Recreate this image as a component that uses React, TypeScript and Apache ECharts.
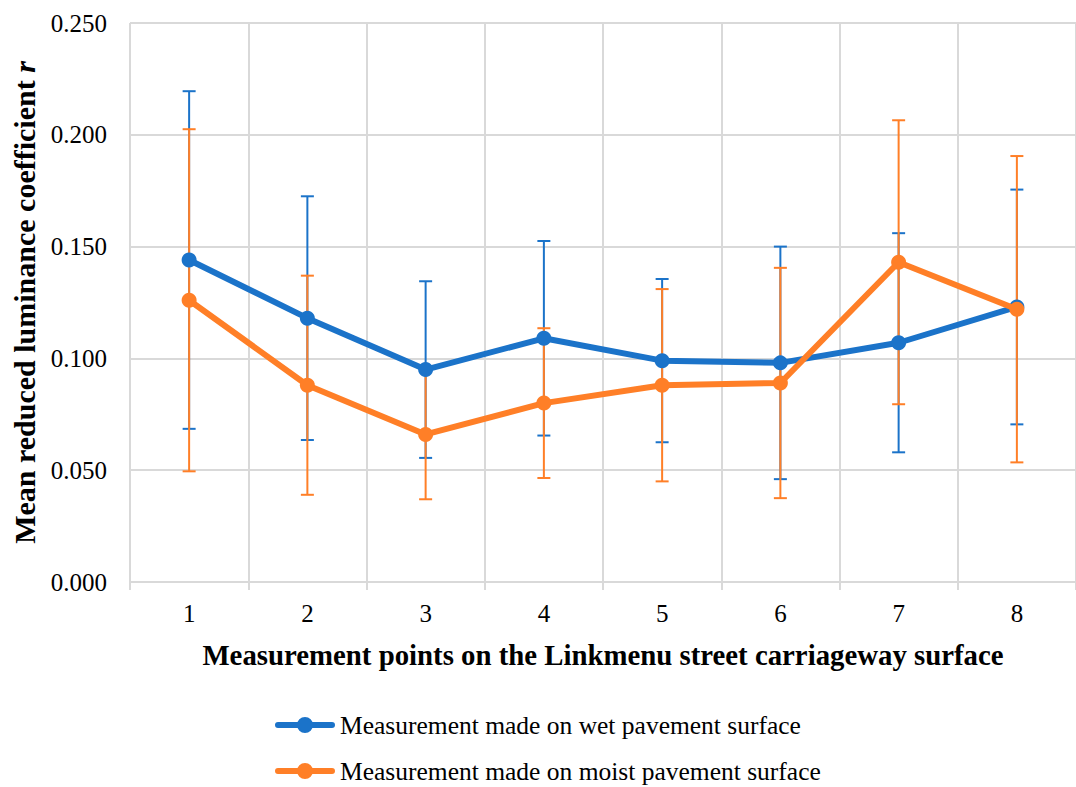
import React, { useEffect, useRef } from "react";
import * as echarts from "echarts";

const categories = ["1", "2", "3", "4", "5", "6", "7", "8"];
const wetMeans = [0.144, 0.118, 0.095, 0.109, 0.099, 0.098, 0.107, 0.123];
const wetErrors = [0.0755, 0.0545, 0.0395, 0.0435, 0.0365, 0.052, 0.049, 0.0525];
const moistMeans = [0.126, 0.088, 0.066, 0.08, 0.088, 0.089, 0.143, 0.122];
const moistErrors = [0.0765, 0.049, 0.029, 0.0335, 0.043, 0.0515, 0.0635, 0.0685];
const wetName = "Measurement made on wet pavement surface";
const moistName = "Measurement made on moist pavement surface";

const BLUE = "#1B73C9";
const ORANGE = "#FF7F27";
const FONT = "'Liberation Serif', 'Times New Roman', serif";
const LEGEND_ICON =
  "path://M3,5 h54 a3,3 0 0,1 0,6 h-54 a3,3 0 0,1 0,-6 z M22,8 a8,8 0 1,1 16,0 a8,8 0 1,1 -16,0 z";

function errData(means: number[], errs: number[]) {
  return means.map((m, i) => [i, m - errs[i], m + errs[i]]);
}

function makeErrRender(color: string) {
  return (params: any, api: any) => {
    const idx = api.value(0);
    const lo = api.coord([idx, api.value(1)]);
    const hi = api.coord([idx, api.value(2)]);
    const hw = 6.5;
    const style = { stroke: color, lineWidth: 2 };
    return {
      type: "group",
      children: [
        { type: "line", shape: { x1: hi[0], y1: hi[1], x2: lo[0], y2: lo[1] }, style },
        { type: "line", shape: { x1: hi[0] - hw, y1: hi[1], x2: hi[0] + hw, y2: hi[1] }, style },
        { type: "line", shape: { x1: lo[0] - hw, y1: lo[1], x2: lo[0] + hw, y2: lo[1] }, style },
      ],
    };
  };
}

export default function App() {
  const ref = useRef<HTMLDivElement>(null);
  useEffect(() => {
    if (!ref.current) return;
    const chart = echarts.init(ref.current, null, { renderer: "svg" });
    const gridColor = "#d9d9d9";
    const legendBase = {
      orient: "horizontal",
      left: 270,
      itemWidth: 60,
      itemHeight: 16,
      itemGap: 4,
      textStyle: { fontFamily: FONT, fontSize: 25.5, color: "#000" },
    };
    chart.setOption({
      animation: false,
      backgroundColor: "#ffffff",
      grid: { left: 130, top: 23, right: -7, bottom: 205, containLabel: false },
      legend: [
        { ...legendBase, top: 707, data: [{ name: wetName, icon: LEGEND_ICON }] },
        { ...legendBase, top: 753, data: [{ name: moistName, icon: LEGEND_ICON }] },
      ],
      xAxis: {
        type: "category",
        data: categories,
        boundaryGap: true,
        name: "Measurement points on the Linkmenu street carriageway surface",
        nameLocation: "middle",
        nameGap: 58,
        nameTextStyle: { fontFamily: FONT, fontSize: 28.8, fontWeight: "bold", color: "#000", verticalAlign: "top" },
        axisLine: { show: true, lineStyle: { color: gridColor, width: 2 } },
        axisTick: { show: true, length: 8, lineStyle: { color: gridColor, width: 2 } },
        axisLabel: { fontFamily: FONT, fontSize: 25, color: "#000", margin: 19 },
        splitLine: { show: true, lineStyle: { color: gridColor, width: 2 } },
      },
      yAxis: {
        type: "value",
        min: 0,
        max: 0.25,
        interval: 0.05,
        name: "Mean reduced luminance coefficient {i|r}",
        nameLocation: "middle",
        nameGap: 87,
        nameRotate: 90,
        nameTextStyle: {
          fontFamily: FONT,
          fontSize: 30,
          fontWeight: "bold",
          color: "#000",
          rich: {
            i: { fontFamily: FONT, fontSize: 30, fontWeight: "bold", fontStyle: "italic", color: "#000" },
          },
        },
        axisLine: { show: false },
        axisTick: { show: false },
        axisLabel: {
          fontFamily: FONT,
          fontSize: 25,
          color: "#000",
          margin: 23,
          formatter: (v: number) => v.toFixed(3),
        },
        splitLine: { show: true, lineStyle: { color: gridColor, width: 2 } },
      },
      series: [
        {
          name: "wetErr",
          type: "custom",
          z: 1,
          renderItem: makeErrRender(BLUE),
          data: errData(wetMeans, wetErrors),
          encode: { x: 0, y: [1, 2] },
          silent: true,
        },
        {
          name: "moistErr",
          type: "custom",
          z: 1,
          renderItem: makeErrRender(ORANGE),
          data: errData(moistMeans, moistErrors),
          encode: { x: 0, y: [1, 2] },
          silent: true,
        },
        {
          name: wetName,
          type: "line",
          z: 3,
          data: wetMeans,
          symbol: "circle",
          symbolSize: 15,
          lineStyle: { color: BLUE, width: 6 },
          itemStyle: { color: BLUE },
        },
        {
          name: moistName,
          type: "line",
          z: 4,
          data: moistMeans,
          symbol: "circle",
          symbolSize: 15,
          lineStyle: { color: ORANGE, width: 6 },
          itemStyle: { color: ORANGE },
        },
      ],
    });
    return () => chart.dispose();
  }, []);
  return (
    <div
      ref={ref}
      style={{ position: "fixed", left: 0, top: 0, width: 1076, height: 787, background: "#fff" }}
    />
  );
}
